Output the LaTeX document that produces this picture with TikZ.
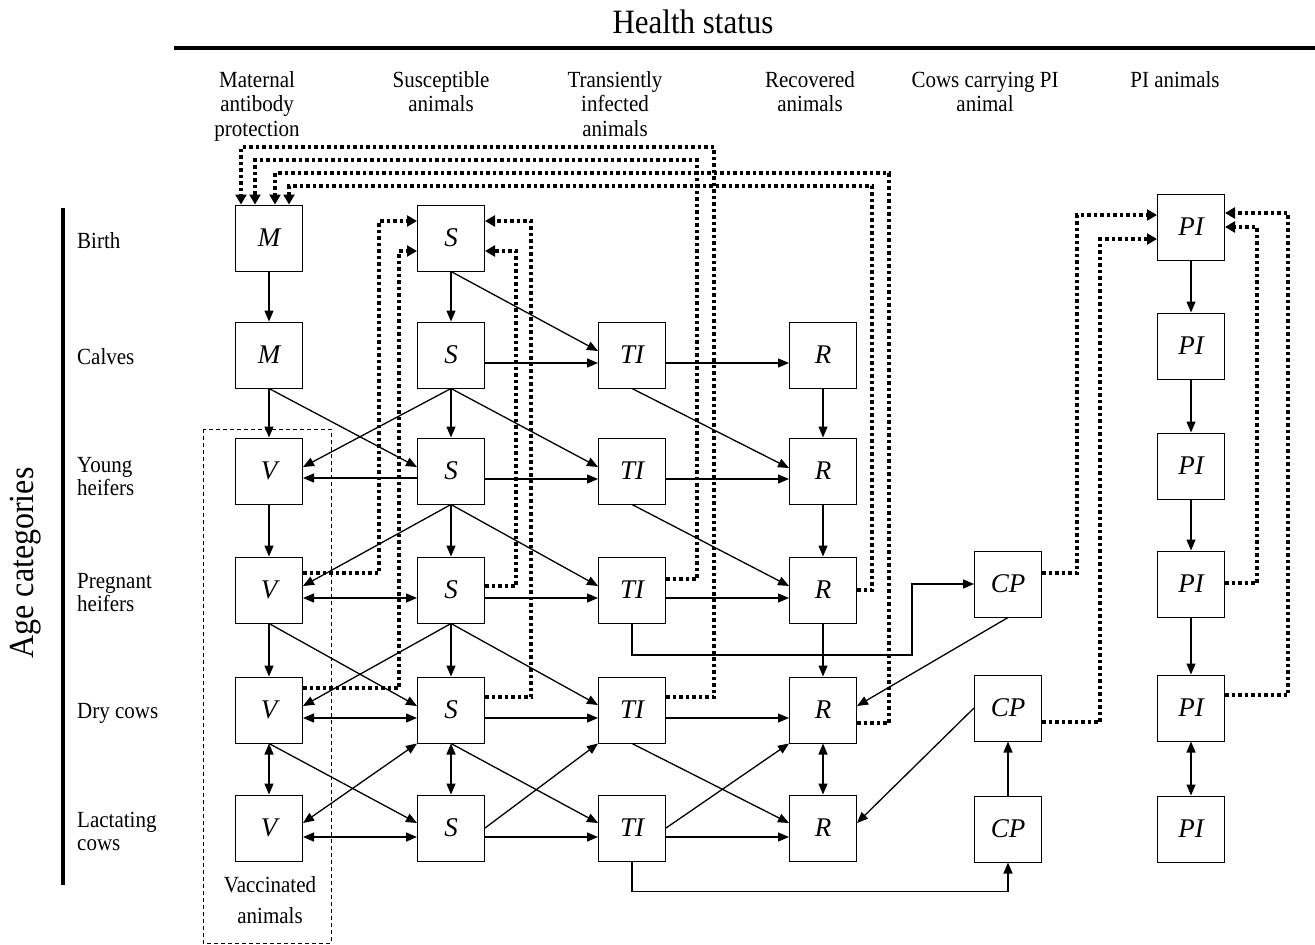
\documentclass[tikz,border=0pt]{standalone}
\usepackage{fontspec}
\setmainfont{Liberation Serif}
\usepackage{graphicx}
\usetikzlibrary{arrows.meta,calc}
\newcommand{\tl}[1]{\scalebox{1}[1.1]{#1}}
\begin{document}
\begin{tikzpicture}[x=1pt,y=-1pt,
  bx/.style={draw, line width=1pt, minimum width=67pt, minimum height=66pt, inner sep=0pt,
             font=\fontsize{27}{30}\selectfont\itshape},
  arr/.style={line width=1.3pt, -{Triangle[length=11pt,width=9pt]}},
  darr/.style={line width=1.3pt, {Triangle[length=11pt,width=9pt]}-{Triangle[length=11pt,width=9pt]}},
  dotarr/.style={line width=3.5pt, dash pattern=on 3.5pt off 3pt, -{Triangle[length=10pt,width=11pt]}},
  hdr/.style={font=\fontsize{21}{22.3}\selectfont, inner sep=0pt, anchor=base},
  rowl/.style={font=\fontsize{21}{21.5}\selectfont, inner sep=0pt, anchor=base west},
]
\useasboundingbox (0,0) rectangle (1315,945);

% frame lines
\coordinate (hl1) at (174,48);
\coordinate (hl2) at (1315,48);
\draw[line width=4pt] (hl1) -- (hl2);
\coordinate (vl1) at (63,208);
\coordinate (vl2) at (63,885);
\draw[line width=4pt] (vl1) -- (vl2);

% titles
\node[font=\fontsize{31}{34}\selectfont, inner sep=0pt, anchor=base] (hs) at (693,33) {\tl{Health status}};
\node[font=\fontsize{32}{36}\selectfont, inner sep=0pt, rotate=90] (ac) at (26,563) {\tl{Age categories}};

% column headers
\node[hdr] (h1) at (257,87) {\tl{\begin{tabular}[t]{@{}c@{}}Maternal\\antibody\\protection\end{tabular}}};
\node[hdr] (h2) at (441,87) {\tl{\begin{tabular}[t]{@{}c@{}}Susceptible\\animals\end{tabular}}};
\node[hdr] (h3) at (615,87) {\tl{\begin{tabular}[t]{@{}c@{}}Transiently\\infected\\animals\end{tabular}}};
\node[hdr] (h4) at (810,87) {\tl{\begin{tabular}[t]{@{}c@{}}Recovered\\animals\end{tabular}}};
\node[hdr] (h5) at (985,87) {\tl{\begin{tabular}[t]{@{}c@{}}Cows carrying PI\\animal\end{tabular}}};
\node[hdr] (h6) at (1175,87) {\tl{PI animals}};

% row labels
\node[rowl] (r1) at (77,248) {\tl{Birth}};
\node[rowl] (r2) at (77,364) {\tl{Calves}};
\node[rowl] (r3) at (77,472) {\tl{\begin{tabular}[t]{@{}l@{}}Young\\heifers\end{tabular}}};
\node[rowl] (r4) at (77,588) {\tl{\begin{tabular}[t]{@{}l@{}}Pregnant\\heifers\end{tabular}}};
\node[rowl] (r5) at (77,718) {\tl{Dry cows}};
\node[rowl] (r6) at (77,827) {\tl{\begin{tabular}[t]{@{}l@{}}Lactating\\cows\end{tabular}}};

% vaccinated group
\coordinate (vg1) at (203,429);
\coordinate (vg2) at (331,943);
\draw[line width=0.8pt, dash pattern=on 4pt off 3pt] (vg1) rectangle (vg2);
\node[font=\fontsize{21}{28.2}\selectfont, inner sep=0pt, anchor=base] (vac) at (270,892)
  {\tl{\begin{tabular}[t]{@{}c@{}}Vaccinated\\animals\end{tabular}}};

% boxes
\node[bx] (Mb) at (269,238) {M};
\node[bx] (Mc) at (269,355) {M};
\node[bx] (Vy) at (269,471) {V};
\node[bx] (Vp) at (269,590) {V};
\node[bx] (Vd) at (269,710) {V};
\node[bx] (Vl) at (269,828) {V};
\node[bx] (Sb) at (451,238) {S};
\node[bx] (Sc) at (451,355) {S};
\node[bx] (Sy) at (451,471) {S};
\node[bx] (Sp) at (451,590) {S};
\node[bx] (Sd) at (451,710) {S};
\node[bx] (Sl) at (451,828) {S};
\node[bx] (TIc) at (632,355) {TI};
\node[bx] (TIy) at (632,471) {TI};
\node[bx] (TIp) at (632,590) {TI};
\node[bx] (TId) at (632,710) {TI};
\node[bx] (TIl) at (632,828) {TI};
\node[bx] (Rc) at (823,355) {R};
\node[bx] (Ry) at (823,471) {R};
\node[bx] (Rp) at (823,590) {R};
\node[bx] (Rd) at (823,710) {R};
\node[bx] (Rl) at (823,828) {R};
\node[bx] (CPp) at (1008,584) {CP};
\node[bx] (CPd) at (1008,708) {CP};
\node[bx] (CPl) at (1008,829) {CP};
\node[bx] (PIb) at (1191,227) {PI};
\node[bx] (PIc) at (1191,346) {PI};
\node[bx] (PIy) at (1191,466) {PI};
\node[bx] (PIp) at (1191,584) {PI};
\node[bx] (PId) at (1191,708) {PI};
\node[bx] (PIl) at (1191,829) {PI};

% vertical arrows
\draw[arr] (Mb) -- (Mc);
\draw[arr] (Mc) -- (Vy);
\draw[arr] (Vy) -- (Vp);
\draw[arr] (Vp) -- (Vd);
\draw[darr] (Vd) -- (Vl);
\draw[arr] (Sb) -- (Sc);
\draw[arr] (Sc) -- (Sy);
\draw[arr] (Sy) -- (Sp);
\draw[arr] (Sp) -- (Sd);
\draw[darr] (Sd) -- (Sl);
\draw[arr] (Rc) -- (Ry);
\draw[arr] (Ry) -- (Rp);
\draw[arr] (Rp) -- (Rd);
\draw[darr] (Rd) -- (Rl);
\draw[arr] (PIb) -- (PIc);
\draw[arr] (PIc) -- (PIy);
\draw[arr] (PIy) -- (PIp);
\draw[arr] (PIp) -- (PId);
\draw[darr] (PId) -- (PIl);
\draw[arr] (CPl) -- (CPd);

% horizontal arrows
\draw[arr] ([yshift=-8pt]Sc.east) -- ([yshift=-8pt]TIc.west);
\draw[arr] ([yshift=-8pt]TIc.east) -- ([yshift=-8pt]Rc.west);
\draw[arr] ([yshift=-7pt]Sy.west) -- ([yshift=-7pt]Vy.east);
\draw[arr] ([yshift=-8pt]Sy.east) -- ([yshift=-8pt]TIy.west);
\draw[arr] ([yshift=-8pt]TIy.east) -- ([yshift=-8pt]Ry.west);
\draw[darr] ([yshift=-8pt]Vp.east) -- ([yshift=-8pt]Sp.west);
\draw[arr] ([yshift=-8pt]Sp.east) -- ([yshift=-8pt]TIp.west);
\draw[arr] ([yshift=-8pt]TIp.east) -- ([yshift=-8pt]Rp.west);
\draw[darr] ([yshift=-8pt]Vd.east) -- ([yshift=-8pt]Sd.west);
\draw[arr] ([yshift=-8pt]Sd.east) -- ([yshift=-8pt]TId.west);
\draw[arr] ([yshift=-8pt]TId.east) -- ([yshift=-8pt]Rd.west);
\draw[darr] ([yshift=-9pt]Vl.east) -- ([yshift=-9pt]Sl.west);
\draw[arr] ([yshift=-9pt]Sl.east) -- ([yshift=-9pt]TIl.west);
\draw[arr] ([yshift=-9pt]TIl.east) -- ([yshift=-9pt]Rl.west);

% diagonal arrows
\draw[arr] (Sb.south) -- ([yshift=4pt]TIc.west);
\draw[arr] (Mc.south) -- ([yshift=4pt]Sy.west);
\draw[arr] (Sc.south) -- ([yshift=4pt]Vy.east);
\draw[arr] (Sc.south) -- ([yshift=4pt]TIy.west);
\draw[arr] (TIc.south) -- ([yshift=3pt]Ry.west);
\draw[arr] (Sy.south) -- ([yshift=4pt]Vp.east);
\draw[arr] (Sy.south) -- ([yshift=4pt]TIp.west);
\draw[arr] (TIy.south) -- ([yshift=4pt]Rp.west);
\draw[arr] (Vp.south) -- ([yshift=4pt]Sd.west);
\draw[arr] (Sp.south) -- ([yshift=4pt]Vd.east);
\draw[arr] (Sp.south) -- ([yshift=5pt]TId.west);
\draw[arr] (CPp.south) -- ([yshift=4pt]Rd.east);
\draw[arr] (Vd.south) -- ([yshift=5pt]Sl.west);
\draw[darr] ([yshift=5pt]Vl.east) -- (Sd.south west);
\draw[arr] (Sd.south) -- ([yshift=5pt]TIl.west);
\draw[arr] (Sl.east) -- (TId.south west);
\draw[arr] (TId.south) -- ([yshift=5pt]Rl.west);
\draw[arr] (TIl.east) -- (Rd.south west);
\draw[arr] (CPd.west) -- ([yshift=5pt]Rl.east);

% orthogonal arrows to CP
\draw[arr] (TIp.south) |- (912,655) |- (CPp.west);
\draw[arr] (TIl.south) -- ++(0,30) -| (CPl.south);

% dotted return arrows to M (birth)
\draw[dotarr] ([yshift=13pt]TId.east) -| (714,147) -| ([xshift=-28pt]Mb.north);
\draw[dotarr] ([yshift=11pt]TIp.east) -| (697,160) -| ([xshift=-14pt]Mb.north);
\draw[dotarr] ([yshift=-13pt]Rd.east) -| (889,173) -| ([xshift=6pt]Mb.north);
\draw[dotarr] (Rp.east) -| (872,186) -| ([xshift=20pt]Mb.north);

% dotted return arrows to S (birth)
\draw[dotarr] ([yshift=17pt]Vp.east) -| (379,221) -- ([yshift=17pt]Sb.west);
\draw[dotarr] ([yshift=22pt]Vd.east) -| (399,251) -- ([yshift=-13pt]Sb.west);
\draw[dotarr] ([yshift=4pt]Sp.east) -| (516,251) -- ([yshift=-13pt]Sb.east);
\draw[dotarr] ([yshift=13pt]Sd.east) -| (531,221) -- ([yshift=17pt]Sb.east);

% dotted return arrows to PI (birth)
\draw[dotarr] ([yshift=11pt]CPp.east) -| (1077,215) -- ([yshift=12pt]PIb.west);
\draw[dotarr] ([yshift=-14pt]CPd.east) -| (1100,239) -- ([yshift=-12pt]PIb.west);
\draw[dotarr] ([yshift=1pt]PIp.east) -| (1257,227) -- (PIb.east);
\draw[dotarr] ([yshift=13pt]PId.east) -| (1288,213) -- ([yshift=14pt]PIb.east);
\end{tikzpicture}
\end{document}
